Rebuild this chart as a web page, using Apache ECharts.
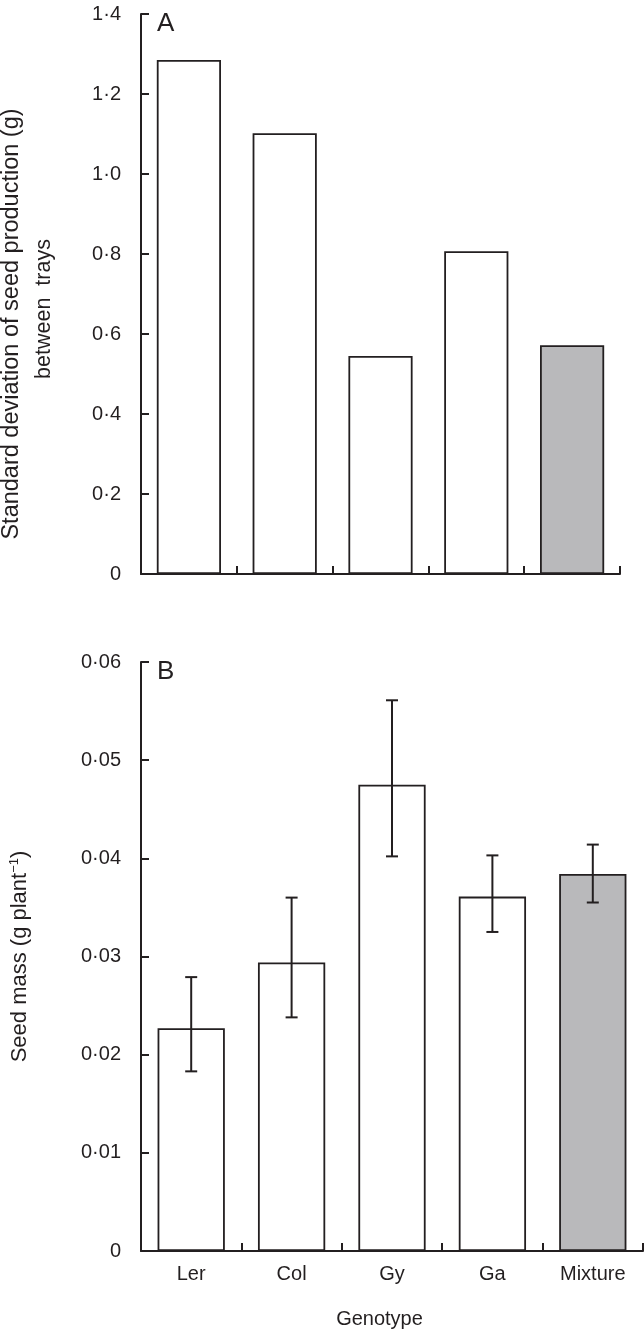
<!DOCTYPE html>
<html>
<head>
<meta charset="utf-8">
<script src="https://cdn.jsdelivr.net/npm/echarts@6/dist/echarts.min.js"></script>
<style>
html,body{margin:0;padding:0;background:#fff;}
#chart{width:644px;height:1333px;}
</style>
</head>
<body>
<div id="chart"></div>
<script>
const categories = ['Ler', 'Col', 'Gy', 'Ga', 'Mixture'];
const sdValues = [1.285, 1.102, 0.545, 0.807, 0.572];
const seedMass = [0.0227, 0.0294, 0.0475, 0.0361, 0.0384];
const seedMassLow = [0.0183, 0.0238, 0.0402, 0.0325, 0.0355];
const seedMassHigh = [0.0279, 0.0360, 0.0561, 0.0403, 0.0414];
const sdTicks = { min: 0, max: 1.4, interval: 0.2 };
const massTicks = { min: 0, max: 0.06, interval: 0.01 };
const barColors = ['#ffffff', '#ffffff', '#ffffff', '#ffffff', '#b9b9bb'];

const FONT = '"Liberation Sans", Arial, sans-serif';
const INK = '#231f20';

function fmt(digits) {
  return function (v) {
    if (Math.abs(v) < 1e-12) return '0';
    return v.toFixed(digits).replace('.', '\u00b7');
  };
}

const axisLineStyle = { show: true, lineStyle: { color: INK, width: 2 } };
const tickStyle = { show: true, inside: true, length: 8, lineStyle: { color: INK, width: 2 } };

const chart = echarts.init(document.getElementById('chart'), null, { renderer: 'canvas' });

chart.setOption({
  backgroundColor: '#ffffff',
  animation: false,
  textStyle: { fontFamily: FONT, color: INK },
  title: [
    { text: 'A', left: 152, top: 6, textStyle: { fontFamily: FONT, fontSize: 26, fontWeight: 'normal', color: INK } },
    { text: 'B', left: 152, top: 654, textStyle: { fontFamily: FONT, fontSize: 26, fontWeight: 'normal', color: INK } }
  ],
  grid: [
    { left: 141, right: 24, top: 14, bottom: 759, containLabel: false, outerBoundsMode: 'none' },
    { left: 141, right: 1, top: 662, bottom: 82, containLabel: false, outerBoundsMode: 'none' }
  ],
  xAxis: [
    {
      type: 'category', gridIndex: 0, data: categories,
      axisLine: axisLineStyle, axisTick: tickStyle,
      axisLabel: { show: false }
    },
    {
      type: 'category', gridIndex: 1, data: categories,
      axisLine: axisLineStyle, axisTick: tickStyle,
      axisLabel: { show: true, fontFamily: FONT, fontSize: 20, color: INK, margin: 13 },
      name: 'Genotype', nameLocation: 'middle', nameGap: 58,
      nameTextStyle: { fontFamily: FONT, fontSize: 20, color: INK, padding: [0, 25, 0, 0] }
    }
  ],
  yAxis: [
    {
      type: 'value', gridIndex: 0, min: sdTicks.min, max: sdTicks.max, interval: sdTicks.interval,
      axisLine: axisLineStyle, axisTick: tickStyle, splitLine: { show: false },
      axisLabel: { fontFamily: FONT, fontSize: 20, color: INK, margin: 20, formatter: fmt(1) },
      name: '{l1|Standard deviation of seed production (g)}\n{l2|between  trays}',
      nameLocation: 'middle', nameGap: 80,
      nameTextStyle: {
        fontFamily: FONT, fontSize: 22, color: INK, lineHeight: 33,
        rich: {
          l1: { fontFamily: FONT, fontSize: 23.5, color: INK, lineHeight: 33, padding: [0, 60, 0, 0] },
          l2: { fontFamily: FONT, fontSize: 21.5, color: INK, lineHeight: 33, padding: [0, 30, 0, 0] }
        }
      }
    },
    {
      type: 'value', gridIndex: 1, min: massTicks.min, max: massTicks.max, interval: massTicks.interval,
      axisLine: axisLineStyle, axisTick: tickStyle, splitLine: { show: false },
      axisLabel: { fontFamily: FONT, fontSize: 20, color: INK, margin: 20, formatter: fmt(2) },
      name: '{a|Seed mass (g plant}{s|\u22121}{a|)}',
      nameLocation: 'middle', nameGap: 110,
      nameTextStyle: {
        fontFamily: FONT, fontSize: 22, color: INK,
        rich: {
          a: { fontFamily: FONT, fontSize: 22, color: INK },
          s: { fontFamily: FONT, fontSize: 13, color: INK, padding: [0, 0, 10, 0] }
        }
      }
    }
  ],
  series: [
    {
      type: 'bar', xAxisIndex: 0, yAxisIndex: 0, barCategoryGap: '33%',
      data: sdValues.map((v, i) => ({ value: v, itemStyle: { color: barColors[i] } })),
      itemStyle: { borderColor: INK, borderWidth: 1.8 }
    },
    {
      type: 'bar', xAxisIndex: 1, yAxisIndex: 1, barCategoryGap: '33%',
      data: seedMass.map((v, i) => ({ value: v, itemStyle: { color: barColors[i] } })),
      itemStyle: { borderColor: INK, borderWidth: 1.8 }
    },
    {
      type: 'custom', xAxisIndex: 1, yAxisIndex: 1, z: 10,
      data: categories.map((c, i) => [i, seedMassLow[i], seedMassHigh[i]]),
      renderItem: function (params, api) {
        const lo = api.coord([api.value(0), api.value(1)]);
        const hi = api.coord([api.value(0), api.value(2)]);
        const x = lo[0];
        const w = 6;
        const st = { stroke: INK, lineWidth: 2, fill: null };
        return {
          type: 'group',
          children: [
            { type: 'line', shape: { x1: x, y1: lo[1], x2: x, y2: hi[1] }, style: st },
            { type: 'line', shape: { x1: x - w, y1: lo[1], x2: x + w, y2: lo[1] }, style: st },
            { type: 'line', shape: { x1: x - w, y1: hi[1], x2: x + w, y2: hi[1] }, style: st }
          ]
        };
      }
    }
  ]
});
</script>
</body>
</html>
